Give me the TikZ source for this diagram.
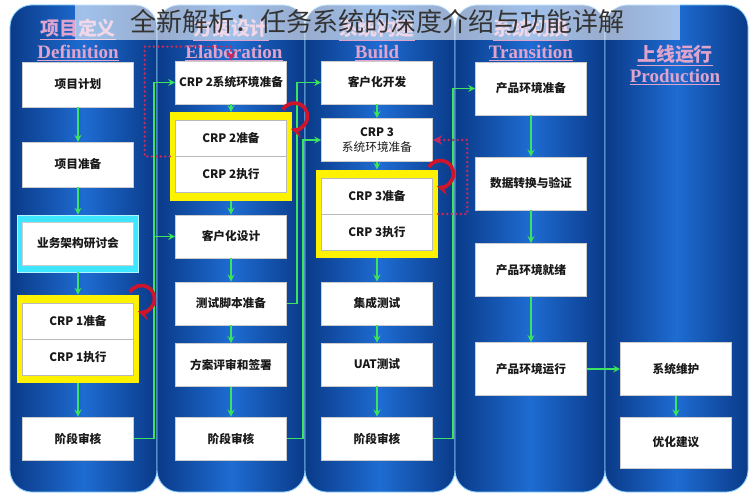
\documentclass[tikz,border=0pt]{standalone}
\usepackage{fontspec}
\setmainfont{Liberation Serif}
\newfontfamily\cjk{Noto Sans CJK SC}
\usepackage{xcolor}
\usepackage{tikz}
\usetikzlibrary{
    shapes,
    positioning
}
\usetikzlibrary{shapes,arrows,positioning}

\definecolor{lanedark}{HTML}{0A3A88}
\definecolor{lanelight}{HTML}{1E6CD2}
\definecolor{laneedge}{HTML}{8AD2FF}
\definecolor{flowgreen}{HTML}{3CE35E}
\definecolor{loopred}{HTML}{D0142C}
\definecolor{dotred}{HTML}{C42A5C}
\definecolor{headpink}{HTML}{E0A4CC}
\definecolor{crpyellow}{HTML}{FFF200}
\definecolor{glowcyan}{HTML}{3EE6FF}

\tikzset{lane/.style={
    draw=laneedge,
    line width=0.6pt,
    left color=lanedark,
    right color=lanedark,
    middle color=lanelight,
    minimum height=12.175cm,
    rounded corners=.55cm,
}}
\tikzset{task/.style={
    draw=gray!40,
    fill=white,
    text=black!90,
    minimum width=2.775cm,
    minimum height=1.08cm,
    inner sep=1pt,
    font=\cjk\bfseries\fontsize{8.3}{11}\selectfont,
}}
\tikzset{crp/.style={
    task,
    draw=gray!55,
    minimum height=0.9cm,
}}
\tikzset{crpframe/.style={
    fill=crpyellow,
    minimum width=3.05cm,
    minimum height=2.2cm,
}}
\tikzset{glowframe/.style={
    fill=glowcyan,
    draw=glowcyan!40,
    minimum width=3.025cm,
    minimum height=1.425cm,
}}
\tikzset{heading/.style={
    text=headpink,
    font=\cjk\bfseries\fontsize{13.5}{15}\selectfont,
}}
\tikzset{headingen/.style={
    text=headpink,
    font=\bfseries\fontsize{13.5}{15}\selectfont,
}}
\tikzset{banner/.style={
    fill=white,
    fill opacity=0.58,
    text opacity=1,
    text=black!80,
    minimum width=15.125cm,
    minimum height=0.9cm,
    font=\cjk\fontsize{18.5}{20}\selectfont,
}}
\tikzset{flow/.style={
    ->,>=stealth,
    line width=1.2pt,
    color=flowgreen,
}}
\tikzset{loopback/.style={
    ->,>=stealth,
    line width=2pt,
    line cap=round,
    dash pattern=on 0pt off 3.2pt,
    color=dotred,
}}
\tikzset{spin/.style={
    ->,>=stealth,
    line width=2.6pt,
    color=loopred,
}}

\begin{document}
\begin{tikzpicture}[
                x=0.025cm, y=-0.025cm,
                align=center
        ]
            \useasboundingbox[fill=white] (0,0) rectangle (756,500);

            \node[lane, minimum width=3.675cm] (lane1) at (83.5,248.5) {};
            \node[lane, minimum width=3.7cm] (lane2) at (231,248.5) {};
            \node[lane, minimum width=3.75cm] (lane3) at (380,248.5) {};
            \node[lane, minimum width=3.75cm] (lane4) at (530,248.5) {};
            \node[lane, minimum width=3.575cm] (lane5) at (676.5,248.5) {};

            \node[heading] (hd1) at (78,30) {\underline{项目定义}};
            \node[headingen] (he1) at (78,53) {\underline{Definition}};
            \node[heading] (hd2) at (231,30) {\underline{方案设计}};
            \node[headingen] (he2) at (234,53) {\underline{Elaboration}};
            \node[heading] (hd3) at (377,30) {\underline{系统构建}};
            \node[headingen] (he3) at (377,53) {\underline{Build}};
            \node[heading] (hd4) at (531,30) {\underline{系统切换}};
            \node[headingen] (he4) at (531,53) {\underline{Transition}};
            \node[heading] (hd5) at (675,56) {\underline{上线运行}};
            \node[headingen] (he5) at (675,77) {\underline{Production}};

            % Definition
            \node[glowframe] (glow) at (78,243.5) {};
            \node[crpframe] (frame1) at (78,339) {};
            \node[task, minimum height=1.12cm] (plan) at (78,84.5) {项目计划};
            \node[task, minimum height=1.12cm] (prep) at (78,164.5) {项目准备};
            \node[task] (workshop) at (78,243.5) {业务架构研讨会};
            \node[crp] (crp1a) at (78,321) {CRP 1准备};
            \node[crp] (crp1b) at (78,357) {CRP 1执行};
            \node[task] (gate1) at (78,438.5) {阶段审核};

            % Elaboration
            \node[crpframe] (frame2) at (231,156.5) {};
            \node[task] (env2) at (231,82.5) {CRP 2系统环境准备};
            \node[crp] (crp2a) at (231,138.5) {CRP 2准备};
            \node[crp] (crp2b) at (231,174.5) {CRP 2执行};
            \node[task] (design2) at (231,236.5) {客户化设计};
            \node[task] (script2) at (231,303.5) {测试脚本准备};
            \node[task] (signoff2) at (231,365) {方案评审和签署};
            \node[task] (gate2) at (231,438.5) {阶段审核};

            % Build
            \node[crpframe] (frame3) at (377,214) {};
            \node[task] (dev3) at (377,82.5) {客户化开发};
            \node[task] (env3) at (377,140) {CRP 3\\{\mdseries 系统环境准备}};
            \node[crp] (crp3a) at (377,196) {CRP 3准备};
            \node[crp] (crp3b) at (377,232) {CRP 3执行};
            \node[task] (sit3) at (377,303.5) {集成测试};
            \node[task] (uat3) at (377,364.5) {UAT测试};
            \node[task] (gate3) at (377,438.5) {阶段审核};

            % Transition / Production
            \node[task, minimum height=1.33cm] (prodprep) at (531,88.5) {产品环境准备};
            \node[task, minimum height=1.33cm] (convert) at (531,183.5) {数据转换与验证};
            \node[task, minimum height=1.33cm] (ready) at (531,270) {产品环境就绪};
            \node[task, minimum height=1.33cm] (golive) at (531,369) {产品环境运行};
            \node[task, minimum height=1.33cm] (support) at (676,369) {系统维护};
            \node[task, minimum height=1.28cm] (improve) at (676,442.5) {优化建议};

            \draw[flow] (plan) -- (prep);
            \draw[flow] (prep) -- (glow);
            \draw[flow] (glow) -- (frame1);
            \draw[flow] (frame1) -- (gate1);
            \draw[flow] (env2) -- (frame2);
            \draw[flow] (frame2) -- (design2);
            \draw[flow] (design2) -- (script2);
            \draw[flow] (script2) -- (signoff2);
            \draw[flow] (signoff2) -- (gate2);
            \draw[flow] (dev3) -- (env3);
            \draw[flow] (env3) -- (frame3);
            \draw[flow] (frame3) -- (sit3);
            \draw[flow] (sit3) -- (uat3);
            \draw[flow] (uat3) -- (gate3);
            \draw[flow] (prodprep) -- (convert);
            \draw[flow] (convert) -- (ready);
            \draw[flow] (ready) -- (golive);
            \draw[flow] (support) -- (improve);

            \draw[flow] (gate1.east) -- ++(20,0) |- (env2.west);
            \draw[flow] (gate1.east) -- ++(20,0) |- (design2.west);
            \draw[flow] (gate2.east) -- ++(16,0) |- (env3.west);
            \draw[flow] (script2.east) -- ++(10,0) |- (dev3.west);
            \draw[flow] (gate3.east) -- ++(20,0) |- (prodprep.west);
            \draw[flow] (golive) -- (support);

            \draw[loopback] (frame2.west) -- ++(-25,0) |- ([yshift=0.35cm]env2.north) -- (env2.north);
            \draw[loopback] (frame3.east) -- ++(29,0) |- (env3.east);

            \coordinate (spin1) at ([shift={(0.05cm,-0.1cm)}]frame1.north east);
            \coordinate (spin2) at ([shift={(0.05cm,-0.1cm)}]frame2.north east);
            \coordinate (spin3) at ([shift={(0.05cm,-0.1cm)}]frame3.north east);
            \draw[spin] ([shift={(150:0.33cm)}]spin1) arc[start angle=150, end angle=-105, radius=0.33cm];
            \draw[spin] ([shift={(150:0.33cm)}]spin2) arc[start angle=150, end angle=-105, radius=0.33cm];
            \draw[spin] ([shift={(150:0.33cm)}]spin3) arc[start angle=150, end angle=-105, radius=0.33cm];

            \node[banner] (title) at (377.5,22) {全新解析：任务系统的深度介绍与功能详解};

        \end{tikzpicture}
\end{document}
